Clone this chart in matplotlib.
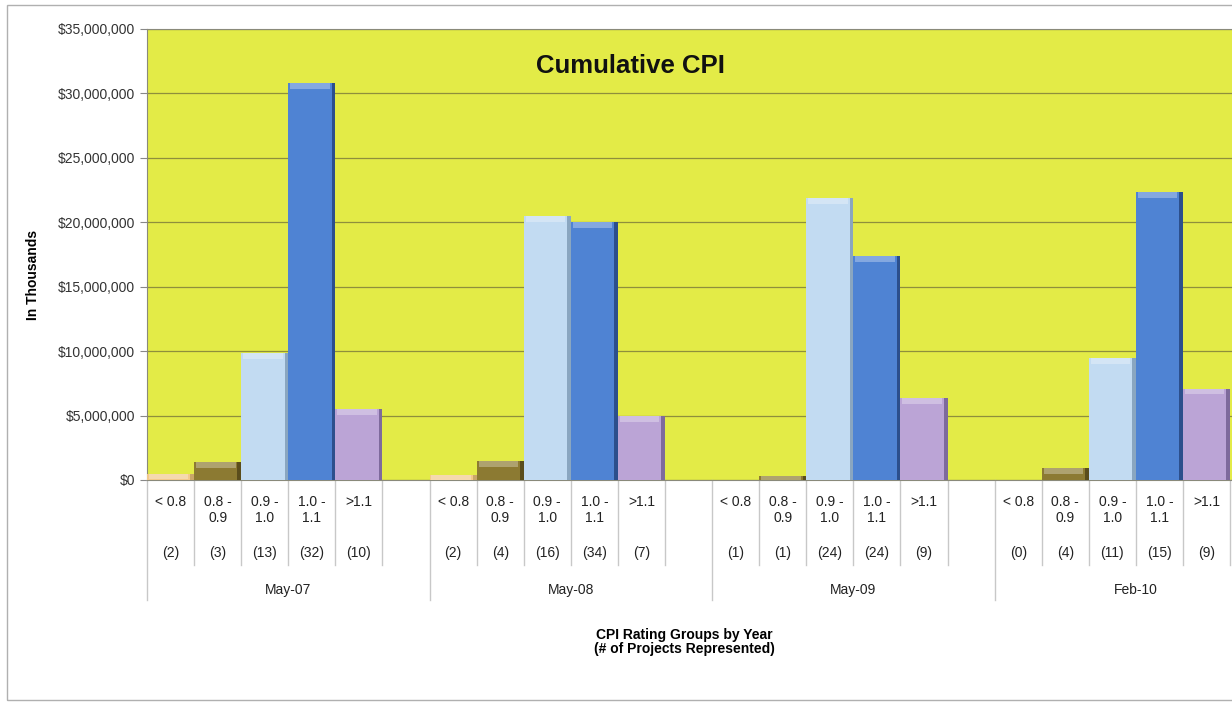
import matplotlib.pyplot as plt
import matplotlib.transforms as mtransforms
from matplotlib.patches import Rectangle
from matplotlib.ticker import FuncFormatter

plt.rcParams['font.family'] = ['Liberation Sans', 'DejaVu Sans']

groups = ['May-07', 'May-08', 'May-09', 'Feb-10']
categories = ['< 0.8', '0.8 -\n0.9', '0.9 -\n1.0', '1.0 -\n1.1', '>1.1']
colors = ['#f2c98c', '#8c7a32', '#c2dbf2', '#4f83d3', '#bba4d6']
shades = ['#c9a66a', '#5a4d1c', '#8aa6c0', '#2c4f8c', '#7e6a9c']

values = {
    'May-07': [0.5e6, 1.4e6, 9.85e6, 30.8e6, 5.5e6],
    'May-08': [0.35e6, 1.45e6, 20.5e6, 20.0e6, 4.95e6],
    'May-09': [0.0, 0.3e6, 21.9e6, 17.4e6, 6.35e6],
    'Feb-10': [0.0, 0.9e6, 9.45e6, 22.35e6, 7.1e6],
}
counts = {
    'May-07': [2, 3, 13, 32, 10],
    'May-08': [2, 4, 16, 34, 7],
    'May-09': [1, 1, 24, 24, 9],
    'Feb-10': [0, 4, 11, 15, 9],
}

W, H = 1232, 703
fig = plt.figure(figsize=(W / 100, H / 100), dpi=100)
fig.patch.set_facecolor('white')
fig.add_artist(Rectangle((7 / W, 3 / H), 1.2, 1 - 8 / H, transform=fig.transFigure,
                         fill=False, edgecolor='#b0b0b0', linewidth=1))

ax = fig.add_axes([147 / W, 1 - 480 / H, (W - 147) / W, 451 / H])
ax.set_facecolor('#e3eb47')

slot = 6
for g, grp in enumerate(groups):
    for k, v in enumerate(values[grp]):
        x = g * slot + k
        ax.bar(x, v, width=1.0, color=colors[k], edgecolor='none', zorder=3)
        if v > 0:
            # right-side shadow and top bevel
            ax.bar(x + 0.46, v, width=0.08, color=shades[k], edgecolor='none', zorder=4)
            bev = min(v, 0.45e6)
            ax.bar(x - 0.04, bev, width=0.84, bottom=v - bev, color='white', alpha=0.3,
                   edgecolor='none', zorder=4)

ax.set_xlim(-0.5, 22.54)
ax.set_ylim(0, 35e6)
ax.set_yticks(range(0, 35000001, 5000000))
ax.yaxis.set_major_formatter(FuncFormatter(lambda v, p: '${:,.0f}'.format(v)))
ax.tick_params(axis='y', labelsize=10, colors='#333333', length=5, color='#888888')
ax.set_xticks([])
ax.grid(axis='y', color='#8e8f3c', linewidth=0.9, zorder=1)
for s in ax.spines.values():
    s.set_color('#8a8a7a')
ax.spines['right'].set_visible(False)

ax.text(0.446, 0.917, 'Cumulative CPI', transform=ax.transAxes, ha='center', va='center',
        fontsize=18.5, fontweight='bold', color='#111111')

# category table under the axis
trans = mtransforms.blended_transform_factory(ax.transData, ax.transAxes)
y_cat = -85 / 451
y_grp = -120 / 451
for g, grp in enumerate(groups):
    x0 = g * slot - 0.5
    ax.plot([x0, x0], [0, y_grp], transform=trans, color='#c8c8c8', lw=1, clip_on=False)
    for k, cat in enumerate(categories):
        x = g * slot + k
        ax.plot([x + 0.5, x + 0.5], [0, y_cat], transform=trans, color='#c8c8c8', lw=1,
                clip_on=False)
        ax.text(x, -15 / 451, cat, transform=trans, ha='center', va='top', fontsize=10,
                color='#222222', linespacing=1.15, clip_on=False)
        ax.text(x, -73 / 451, '({})'.format(counts[grp][k]), transform=trans, ha='center',
                va='center', fontsize=10, color='#222222', clip_on=False)
    ax.text(g * slot + 2.5, -110 / 451, grp, transform=trans, ha='center', va='center',
            fontsize=10, color='#222222', clip_on=False)

fig.text(684 / W, 1 - 642 / H, 'CPI Rating Groups by Year\n(# of Projects Represented)',
         ha='center', va='center', fontsize=10, fontweight='bold', linespacing=0.95)
fig.text(33 / W, 1 - 275 / H, 'In Thousands', rotation=90, ha='center', va='center',
         fontsize=10, fontweight='bold')

fig.savefig('out.png', dpi=100)
